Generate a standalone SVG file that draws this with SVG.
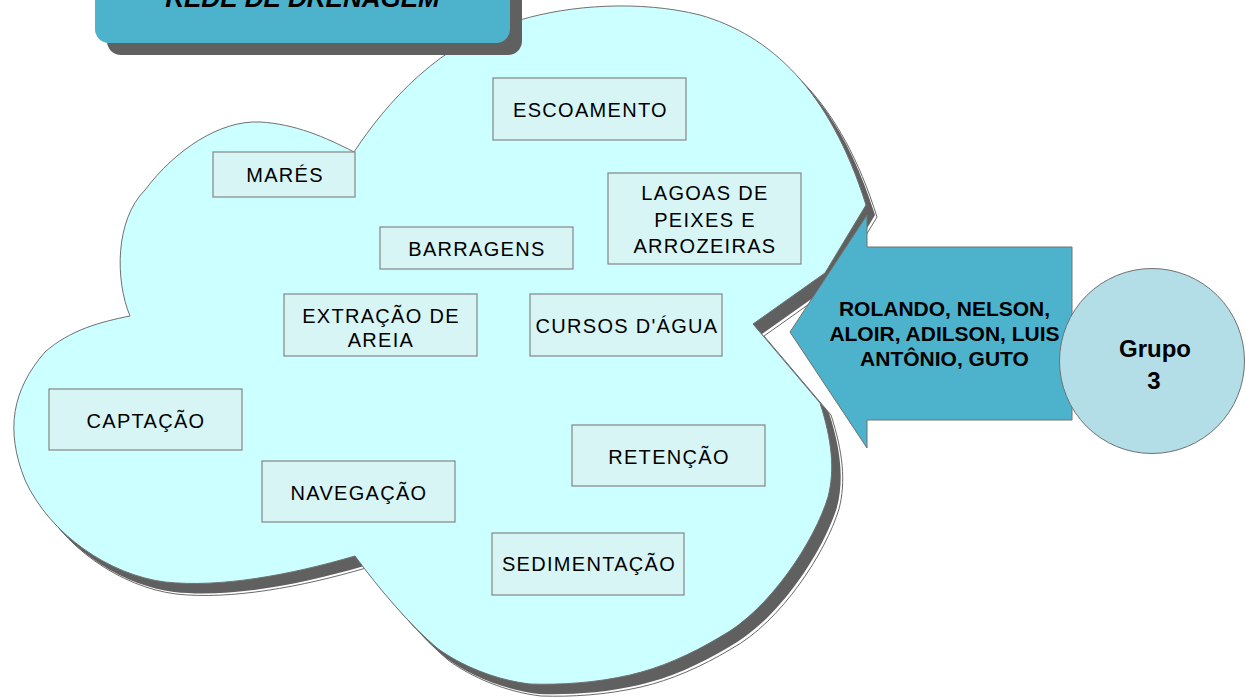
<svg xmlns="http://www.w3.org/2000/svg" width="1246" height="700" viewBox="0 0 1246 700">
<defs>
<style>
.box{fill:#d8f5f5;stroke:#858585;stroke-width:1.2}
.bt{font-family:"Liberation Sans",Arial,sans-serif;font-size:20px;letter-spacing:1.3px;fill:#000;text-anchor:middle}
.bold{font-family:"Liberation Sans",Arial,sans-serif;font-weight:bold;fill:#000;text-anchor:middle}
.teal{fill:#4db3cc}
.shadow{fill:#606060}
</style>
<path id="cloudPath" d="M354,152 C385,105 440,40 520,20 C570,5 640,0 700,15 C770,35 830,90 866,205 L825,273 L753,324 L820,403 C832,440 835,470 828,497 C815,540 770,610 720,637 C690,655 660,668 630,675 C595,683 560,685 530,684 C495,680 460,665 437,648 C410,625 380,590 355,556 C290,575 220,588 165,582 C110,575 50,535 25,480 C5,430 12,390 45,352 C70,330 100,322 130,316 C115,280 115,220 145,190 C175,150 220,120 260,122 C295,124 325,137 354,152 Z"/>
</defs>
<rect width="1246" height="700" fill="#ffffff"/>

<g id="cloud">
<use href="#cloudPath" transform="translate(11,12)" fill="none" stroke="#6a6a6a" stroke-width="1"/>
<use href="#cloudPath" transform="translate(9,10)" class="shadow"/>
<use href="#cloudPath" fill="#ccffff" stroke="#707070" stroke-width="1"/>
</g>

<g id="title">
<rect x="107" y="-48" width="415" height="103" rx="14" class="shadow"/>
<rect x="95" y="-60" width="415" height="103" rx="14" class="teal"/>
<text x="302.5" y="7" class="bold" font-style="italic" font-size="26">REDE DE DRENAGEM</text>
</g>

<g id="connectors"></g>

<g id="escoamento">
<rect x="493" y="78" width="193" height="62" class="box"/>
<text x="590.5" y="117" class="bt">ESCOAMENTO</text>
</g>
<g id="mares">
<rect x="213" y="152" width="142" height="45" class="box"/>
<text x="285" y="182" class="bt">MARÉS</text>
</g>
<g id="lagoas">
<rect x="608" y="173" width="193" height="91" class="box"/>
<text x="705" y="200" class="bt">LAGOAS DE</text>
<text x="705" y="227" class="bt">PEIXES E</text>
<text x="705" y="253" class="bt">ARROZEIRAS</text>
</g>
<g id="barragens">
<rect x="380" y="227" width="193" height="42" class="box"/>
<text x="477" y="256" class="bt">BARRAGENS</text>
</g>
<g id="extracao">
<rect x="284" y="294" width="193" height="62" class="box"/>
<text x="381" y="323" class="bt">EXTRAÇÃO DE</text>
<text x="381" y="347" class="bt">AREIA</text>
</g>
<g id="cursos">
<rect x="530" y="294" width="192" height="62" class="box"/>
<text x="627" y="333" class="bt">CURSOS D'ÁGUA</text>
</g>
<g id="captacao">
<rect x="49" y="389" width="193" height="61" class="box"/>
<text x="146" y="428" class="bt">CAPTAÇÃO</text>
</g>
<g id="retencao">
<rect x="572" y="425" width="193" height="61" class="box"/>
<text x="669" y="464" class="bt">RETENÇÃO</text>
</g>
<g id="navegacao">
<rect x="262" y="461" width="193" height="61" class="box"/>
<text x="359" y="500" class="bt">NAVEGAÇÃO</text>
</g>
<g id="sedimentacao">
<rect x="492" y="533" width="192" height="62" class="box"/>
<text x="589" y="571" class="bt">SEDIMENTAÇÃO</text>
</g>

<g id="grupo">
<polygon points="790,332 867,215 867,247 1072,247 1072,420 867,420 867,448" class="teal" stroke="#707070" stroke-width="1"/>
<circle cx="1152" cy="361" r="92.5" fill="#b3dee8" stroke="#707070" stroke-width="1"/>
<text x="944.5" y="316" class="bold" font-size="21">ROLANDO, NELSON,</text>
<text x="944.5" y="341" class="bold" font-size="21">ALOIR, ADILSON, LUIS</text>
<text x="944.5" y="366" class="bold" font-size="21">ANTÔNIO, GUTO</text>
<text x="1155" y="357" class="bold" font-size="24">Grupo</text>
<text x="1154" y="389" class="bold" font-size="24">3</text>
</g>
</svg>
